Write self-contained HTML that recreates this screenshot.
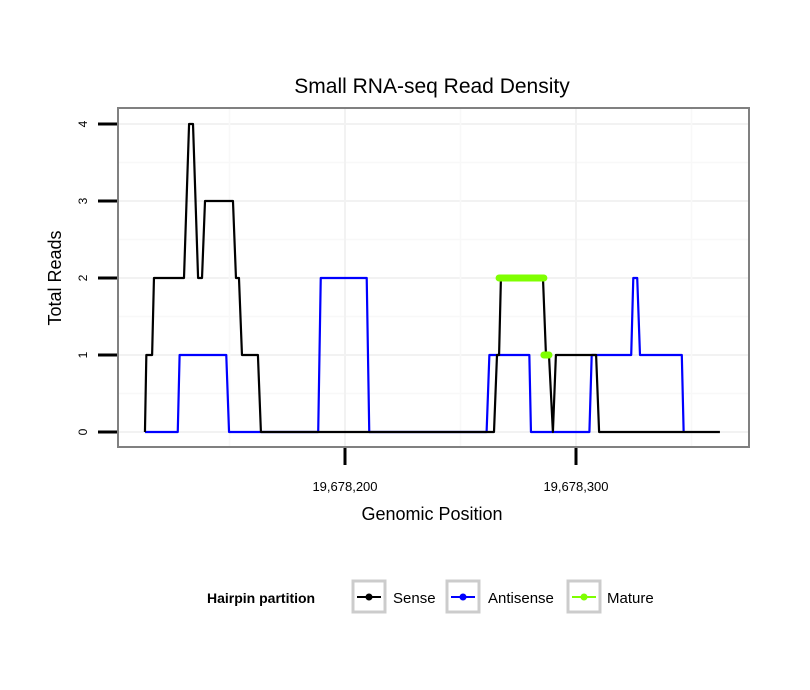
<!DOCTYPE html>
<html><head><meta charset="utf-8"><style>
body{margin:0;background:#fff;}
svg{display:block;font-family:"Liberation Sans",sans-serif;}
</style></head><body>
<svg id="chart" width="810" height="690">
<text x="432" y="93" font-size="21" text-anchor="middle">Small RNA-seq Read Density</text>
<g id="grid"></g>
<g id="series"></g>
<rect x="118" y="108" width="631" height="339" fill="none" stroke="#808080" stroke-width="2"/>
<g id="axes"></g>
<text x="432" y="520" font-size="18" text-anchor="middle">Genomic Position</text>
<text transform="translate(61,278) rotate(-90)" font-size="18" text-anchor="middle">Total Reads</text>
<g>
<text x="207" y="603" font-size="14" font-weight="bold">Hairpin partition</text>
<g>
<rect x="353" y="581" width="32" height="31" fill="#fff" stroke="#ccc" stroke-width="3"/>
<line x1="357" y1="597" x2="381" y2="597" stroke="#000" stroke-width="2"/><circle cx="369" cy="597" r="3.5" fill="#000"/>
<text x="393" y="603" font-size="15">Sense</text></g>
<g>
<rect x="447" y="581" width="32" height="31" fill="#fff" stroke="#ccc" stroke-width="3"/>
<line x1="451" y1="597" x2="475" y2="597" stroke="#0000ff" stroke-width="2"/><circle cx="463" cy="597" r="3.5" fill="#0000ff"/>
<text x="488" y="603" font-size="15">Antisense</text></g>
<g>
<rect x="568" y="581" width="32" height="31" fill="#fff" stroke="#ccc" stroke-width="3"/>
<line x1="572" y1="597" x2="596" y2="597" stroke="#7fff00" stroke-width="2"/><circle cx="584" cy="597" r="3.5" fill="#7fff00"/>
<text x="607" y="603" font-size="15">Mature</text></g>
</g>
</svg>
<script>
// positions are genomic coordinate minus 19,678,000
const senseX = [113.4,114.0,116.5,117.3,130.3,132.5,134.2,136.4,138.1,139.4,151.5,152.8,154.1,155.4,162.3,163.6,264.5,265.8,266.7,267.5,285.7,287.0,288.3,290.0,291.3,308.7,310.0,362.3];
const senseY = [0,1,1,2,2,4,4,2,2,3,3,2,2,1,1,0,0,1,1,2,2,1,1,0,1,1,0,0];
const antiX = [113.4,127.6,128.4,148.6,149.8,188.4,189.5,209.4,210.5,261.3,262.5,279.8,280.5,305.8,306.8,323.9,324.8,326.5,327.7,345.8,346.6];
const antiY = [0,0,1,1,0,0,2,2,0,0,1,1,0,0,1,1,2,2,1,1,0];
const matureX = [266.7,286.1,286.1,288.3];
const matureY = [2,2,1,1];
const xTicks = [200,300];
const xTickLabels = ["19,678,200","19,678,300"];
const yTicks = [0,1,2,3,4];

function sx(v){return 345 + (v-200)*2.31;}
function sy(v){return 432 - v*77;}
const NS="http://www.w3.org/2000/svg";
function mk(tag,attrs,parent){const e=document.createElementNS(NS,tag);for(const k in attrs)e.setAttribute(k,attrs[k]);parent.appendChild(e);return e;}
const grid=document.getElementById('grid'), axes=document.getElementById('axes'), series=document.getElementById('series');

for(let v=-0.5; v<=4.5; v+=0.5){
  const y=sy(v); if(y<109||y>446) continue;
  const l=mk('line',{x1:119,x2:748,y1:y,y2:y,stroke: v%1===0?'#f2f2f2':'#f8f8f8','stroke-width':v%1===0?2:1.5},grid);
  
  
}
for(let v=50; v<=400; v+=50){
  const x=sx(v); if(x<119||x>748) continue;
  const l=mk('line',{x1:x,x2:x,y1:109,y2:446,stroke: v%100===0?'#f2f2f2':'#f8f8f8','stroke-width':v%100===0?2:1.5},grid);
  
  
}
yTicks.forEach(v=>{
  const t=mk('line',{x1:98,x2:117,y1:sy(v),y2:sy(v),stroke:'#000','stroke-width':3},axes);
  
  
  const tx=mk('text',{transform:`translate(87,${sy(v)}) rotate(-90)`,'font-size':12,'text-anchor':'middle'},axes);
  tx.textContent=v;
  
  
});
xTicks.forEach((v,i)=>{
  const t=mk('line',{x1:sx(v),x2:sx(v),y1:448,y2:465,stroke:'#000','stroke-width':3},axes);
  
  
  const tx=mk('text',{x:sx(v),y:491,'font-size':13,'text-anchor':'middle'},axes);
  tx.textContent=xTickLabels[i];
  
  
});
function line(xs,ys,color,w,name){
  const p=xs.map((x,i)=>sx(x)+','+sy(ys[i])).join(' ');
  const e=mk('polyline',{points:p,fill:'none',stroke:color,'stroke-width':w,'stroke-linejoin':'round'},series);
  
  
}
line(antiX,antiY,'#0000ff',2.2,'antisense-line');
line(senseX,senseY,'#000',2.2,'sense-line');
for(let i=0;i<matureX.length;i+=2){
  const e=mk('line',{x1:sx(matureX[i]),x2:sx(matureX[i+1]),y1:sy(matureY[i]),y2:sy(matureY[i+1]),stroke:'#7fff00','stroke-width':7,'stroke-linecap':'round'},series);
  
  
}
</script>
</body></html>
